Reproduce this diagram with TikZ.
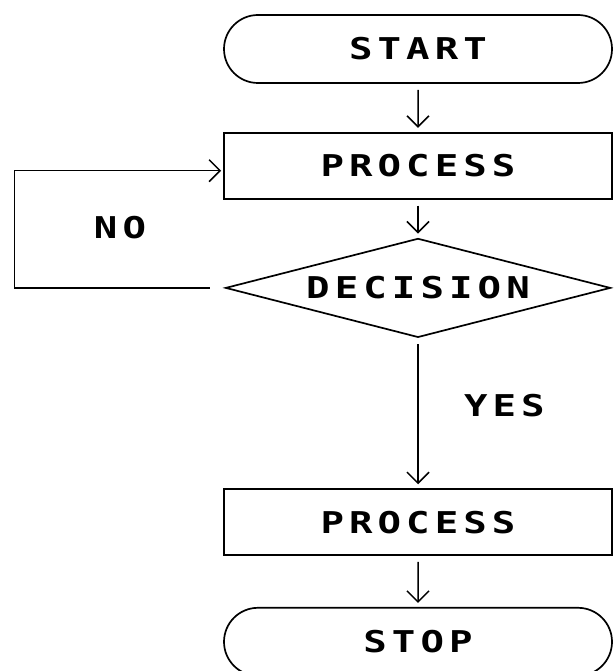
\documentclass[tikz,border=0pt]{standalone}
\usepackage{fontspec}
\usetikzlibrary{positioning, shapes.geometric, shapes.misc, arrows.meta}
\newfontfamily\chartfont{DejaVu Sans Mono}[FakeStretch=1.3, LetterSpace=17]

\begin{document}
\begin{tikzpicture}[x=1pt, y=1pt, node distance=48pt,
    font=\fontsize{30}{32}\chartfont\bfseries,
    startstop/.style={draw, rounded rectangle, line width=1.7pt, minimum width=388pt, minimum height=68pt, inner sep=0pt},
    processbox/.style={draw, rectangle, line width=1.7pt, minimum width=388pt, minimum height=66pt, inner sep=0pt},
    decisionbox/.style={draw, diamond, aspect=3.9, line width=1.7pt, minimum width=385pt, minimum height=99pt, inner sep=0pt},
    flow/.style={line width=1.5pt, -{Straight Barb[length=11pt,width=22pt]}, shorten <=6pt, shorten >=4pt}]
    \useasboundingbox (0,0) rectangle (613,-671);
    \node[startstop] (start) at (418,-49) {START};
    \node[processbox] (proc1) [below = of start] {PROCESS};
    \node[decisionbox] (decision) [below = 38pt of proc1] {DECISION};
    \node[processbox] (proc2) [below = 150pt of decision] {PROCESS};
    \node[startstop] (stop) [below = 51pt of proc2] {STOP};
    \draw[flow] (start) -- (proc1);
    \draw[flow] (proc1) -- (decision);
    \draw[flow] (decision) -- node[right=42pt, pos=0.45] (yes) {YES} (proc2);
    \draw[flow] (proc2) -- (stop);
    % loop back when the answer is no
    \draw[flow, shorten <=15pt, shorten >=2pt] (decision.west) -- ++(-210,0) |- ([yshift=-5pt]proc1.west);
    \node (no) at (120,-228) {NO};
\end{tikzpicture}
\end{document}
